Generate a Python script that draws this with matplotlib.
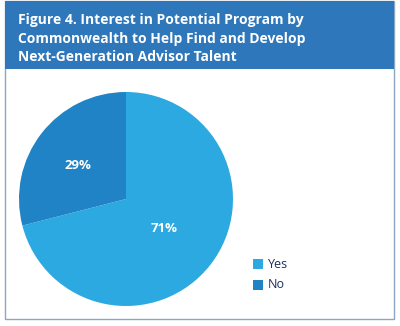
import matplotlib.pyplot as plt
from matplotlib.patches import Rectangle

labels = ['Yes', 'No']
shares = [71, 29]
colors = ['#2DA9E1', '#1F83C5']
title_lines = ['Figure 4. Interest in Potential Program by',
               'Commonwealth to Help Find and Develop',
               'Next-Generation Advisor Talent']

W, H = 400, 326
fig = plt.figure(figsize=(W / 100, H / 100), dpi=100)
fig.patch.set_facecolor('white')


def px(x, y):
    # pixel position (top-left origin) -> figure fraction
    return x / W, 1 - y / H


# panel frame and header band (pixel coordinates, origin at top-left)
bg = fig.add_axes([0, 0, 1, 1])
bg.set_xlim(0, W)
bg.set_ylim(H, 0)
bg.axis('off')
bg.set_zorder(0)
bg.add_patch(Rectangle((5, 1), 389, 318, facecolor='white',
                       edgecolor='#8DA5C4', linewidth=1.0))
bg.add_patch(Rectangle((5, 1), 389, 68, facecolor='#2E77BA',
                       edgecolor='none'))
for i, line in enumerate(title_lines):
    bg.text(18, 20 + i * 18.5, line, color='white', fontsize=10,
            fontweight='bold', family='Open Sans', va='center', ha='left')

# pie chart
r = 107
cx, cy = 126, 199
ax = fig.add_axes([(cx - r) / W, 1 - (cy + r) / H, 2 * r / W, 2 * r / H])
ax.set_zorder(1)
wedges, _ = ax.pie(shares, colors=colors, startangle=90, counterclock=False,
                   wedgeprops=dict(linewidth=0))
ax.set_xlim(-1, 1)
ax.set_ylim(-1, 1)
ax.set_aspect('auto')
ax.axis('off')

# percentage labels
fig.text(*px(164, 228), f'{shares[0]}%', color='white', fontsize=9.5,
         fontweight='bold', family='Open Sans', ha='center', va='center',
         zorder=5)
fig.text(*px(78, 166), f'{shares[1]}%', color='white', fontsize=9.5,
         fontweight='bold', family='Open Sans', ha='center', va='center',
         zorder=5)

# legend
for i, (lab, col) in enumerate(zip(labels, colors)):
    y = 264 + i * 21
    bg.add_patch(Rectangle((253, y - 5), 10, 10, facecolor=col,
                           edgecolor='none'))
    bg.text(268, y, lab, color='#1B2F5E', fontsize=9, family='Open Sans',
            va='center', ha='left')

fig.savefig('out.png', dpi=100)
